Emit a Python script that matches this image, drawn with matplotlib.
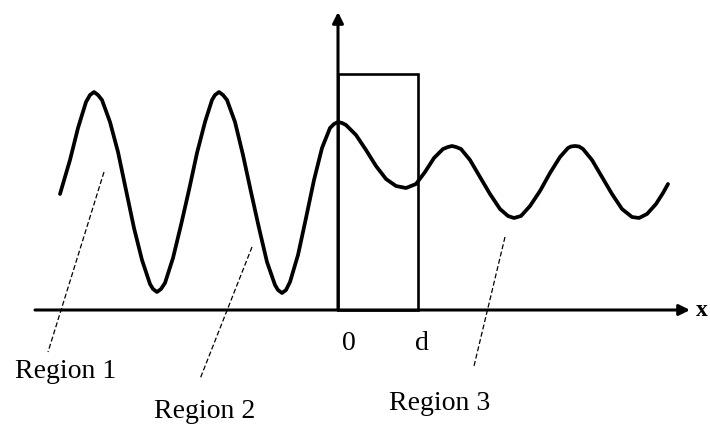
import matplotlib
matplotlib.use("Agg")
import matplotlib.pyplot as plt
from matplotlib.patches import Rectangle

# Wave samples (x relative to barrier start, y height above the x-axis)
wave_x = [-278, -268, -260, -252, -248, -244, -240, -236, -228, -220, -212, -204, -196, -188,
          -185, -181, -177, -173, -165, -157, -149, -141, -133, -126, -123, -119, -115, -111,
          -103, -95, -87, -79, -71, -63, -60, -56, -52, -48, -40, -32, -24, -16, -8, -4, 0, 4,
          8, 18, 28, 38, 48, 58, 68, 78, 87, 96, 105, 110, 114, 118, 123, 132, 142, 152, 162,
          170, 176, 183, 192, 202, 212, 222, 230, 233, 237, 241, 245, 254, 264, 274, 284, 294,
          301, 309, 318, 325, 330]
wave_y = [116, 150, 182, 208, 215, 218, 215, 210, 188, 158, 120, 82, 50, 26,
          21, 18, 21, 27, 52, 85, 120, 157, 188, 210, 215, 218, 215, 210,
          188, 155, 118, 82, 48, 25, 20, 17, 20, 28, 55, 92, 130, 162, 182, 186, 188, 187,
          185, 175, 160, 144, 131, 124, 122, 126, 138, 152, 161, 163, 164, 163, 161, 150, 133, 116, 101,
          94, 92, 94, 104, 119, 137, 153, 162, 163.5, 164, 163.5, 161, 150, 133, 116, 101, 93,
          92, 96, 106, 117, 126]

barrier_width = 80      # "d"
barrier_height = 236

region_labels = ["Region 1", "Region 2", "Region 3"]
label_pos = [(-272, -62), (-133, -102), (102, -93)]
leader_lines = [((-234, 138), (-290, -42)),
                ((-86, 63), (-138, -69)),
                ((167, 73), (136, -56))]
tick_labels = ["0", "d"]
tick_pos = [(11, -33), (84, -33)]

fig = plt.figure(figsize=(7.10, 4.26), dpi=100)
ax = fig.add_axes([0, 0, 1, 1])
ax.set_xlim(-338, 372)
ax.set_ylim(-116, 310)
ax.axis("off")

serif = ["Liberation Serif", "DejaVu Serif"]

# axes with arrows
ax.annotate("", xy=(352, 0), xytext=(-303, 0),
            arrowprops=dict(arrowstyle="-|>", lw=2.2, color="black",
                            mutation_scale=16, shrinkA=0, shrinkB=0))
ax.annotate("", xy=(0, 298), xytext=(0, 0),
            arrowprops=dict(arrowstyle="-|>", lw=2.2, color="black",
                            mutation_scale=16, shrinkA=0, shrinkB=0))
ax.text(358, -1, "x", fontsize=17, fontweight="bold", family=serif,
        ha="left", va="center")

# barrier
ax.add_patch(Rectangle((0, 0), barrier_width, barrier_height, fill=False,
                       lw=1.9, ec="black", joinstyle="miter"))

# wave
ax.plot(wave_x, wave_y, color="black", lw=2.7, solid_capstyle="round",
        solid_joinstyle="round")

# leader lines and labels
for (p0, p1) in leader_lines:
    ax.plot([p0[0], p1[0]], [p0[1], p1[1]], color="black", lw=0.9,
            linestyle=(0, (4, 2)))
for lab, (x, y) in zip(region_labels, label_pos):
    ax.text(x, y, lab, fontsize=20, family=serif, ha="center", va="center")
for lab, (x, y) in zip(tick_labels, tick_pos):
    ax.text(x, y, lab, fontsize=20, family=serif, ha="center", va="center")

fig.savefig("out.png", dpi=100)
